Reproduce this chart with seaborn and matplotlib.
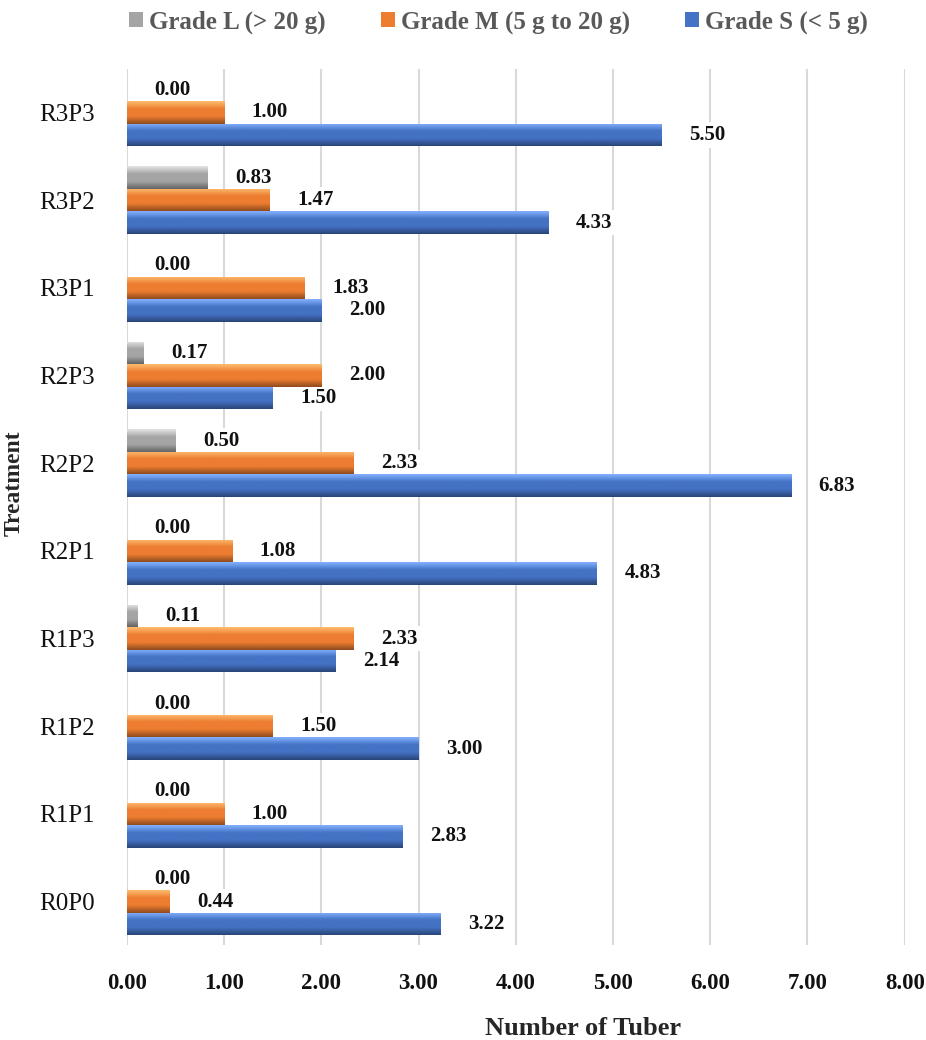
import numpy as np
import pandas as pd
import matplotlib.pyplot as plt
import seaborn as sns
from matplotlib.colors import LinearSegmentedColormap, to_rgb

treatments = ['R3P3', 'R3P2', 'R3P1', 'R2P3', 'R2P2', 'R2P1', 'R1P3', 'R1P2', 'R1P1', 'R0P0']
grade_l = [0.00, 0.83, 0.00, 0.17, 0.50, 0.00, 0.11, 0.00, 0.00, 0.00]
grade_m = [1.00, 1.47, 1.83, 2.00, 2.33, 1.08, 2.33, 1.50, 1.00, 0.44]
grade_s = [5.50, 4.33, 2.00, 1.50, 6.83, 4.83, 2.14, 3.00, 2.83, 3.22]
grades = ['Grade L (> 20 g)', 'Grade M (5 g to 20 g)', 'Grade S (< 5 g)']
colors = ['#A5A5A5', '#ED7D31', '#4472C4']

df = pd.DataFrame({
    'Treatment': treatments * 3,
    'Grade': [grades[0]] * 10 + [grades[1]] * 10 + [grades[2]] * 10,
    'Value': grade_l + grade_m + grade_s,
})

sns.set_style('white')
plt.rcParams['font.family'] = ['Liberation Serif', 'DejaVu Serif']

fig = plt.figure(figsize=(9.26, 10.4), dpi=100)
ax = fig.add_axes([0.137, 0.091, 0.840, 0.843])

sns.barplot(data=df, x='Value', y='Treatment', hue='Grade', order=treatments,
            hue_order=grades, palette=colors, width=0.77, orient='h', ax=ax,
            saturation=1, edgecolor='none', legend=True, zorder=3)

ax.set_xticks(range(9))
ax.set_xticklabels(['%.2f' % v for v in range(9)])
ax.grid(axis='x', color='#D9D9D9', linewidth=1.5)
ax.set_axisbelow(True)
for s in ax.spines.values():
    s.set_visible(False)
ax.tick_params(axis='x', length=0, pad=20, labelsize=16.5)
ax.tick_params(axis='y', length=0, pad=23, labelsize=18)
for t in ax.get_xticklabels():
    t.set_fontweight('bold')
    t.set_color('#111111')
for t in ax.get_yticklabels():
    t.set_color('#111111')

ax.set_xlabel('Number of Tuber', fontsize=19, fontweight='bold')
ax.xaxis.set_label_coords(0.587, -0.082)
ax.set_ylabel('Treatment', fontsize=17, fontweight='bold')
ax.yaxis.set_label_coords(-0.131, 0.527)

# bevel-like shading on each bar
for cont, col in zip(ax.containers, colors):
    r, g, b = to_rgb(col)
    light = tuple(min(1, c + 0.25) for c in (r, g, b))
    dark = tuple(c * 0.6 for c in (r, g, b))
    cmap = LinearSegmentedColormap.from_list('bev', [light, (r, g, b), (r, g, b), dark])
    grad = np.linspace(0, 1, 64).reshape(-1, 1)
    for p in cont.patches:
        w = p.get_width()
        if w <= 0:
            continue
        y0 = p.get_y()
        h = p.get_height()
        im = ax.imshow(grad, cmap=cmap, aspect='auto', extent=(0, w, y0 + h, y0),
                       zorder=3.5, interpolation='bicubic')
        im.set_clip_path(p)
    ax.bar_label(cont, fmt='%.2f', padding=20, fontsize=15, fontweight='bold',
                 color='#111111', zorder=2,
                 bbox=dict(facecolor='white', edgecolor='none', pad=2))

ax.set_xlim(0, 8)
ax.set_ylim(9.5, -0.5)

leg = ax.legend(loc='upper center', bbox_to_anchor=(0.478, 1.092), ncol=3, frameon=False,
                handlelength=0.55, handleheight=0.55, handletextpad=0.25, columnspacing=2.2,
                prop={'size': 18, 'weight': 'bold'})
for t in leg.get_texts():
    t.set_color('#595959')

fig.savefig('out.png', dpi=100)
